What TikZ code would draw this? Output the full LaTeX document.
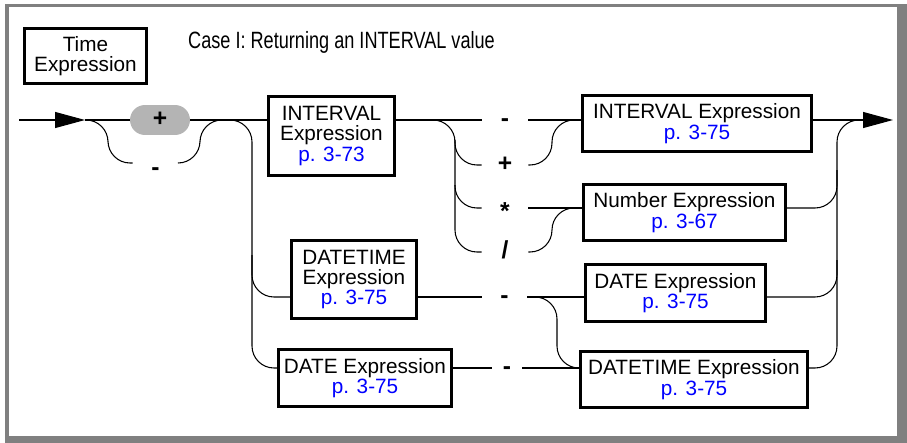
\documentclass[tikz,border=0pt]{standalone}
\usepackage{fontspec}
\setmainfont{Liberation Sans}
\newfontfamily\condfont[FakeStretch=0.77]{Liberation Sans}
\usetikzlibrary{arrows.meta}
\definecolor{framegray}{RGB}{128,128,128}
\definecolor{pillgray}{RGB}{180,180,180}
\definecolor{pageref}{RGB}{0,0,255}

\begin{document}
\begin{tikzpicture}[
    x=0.02cm, y=-0.02cm,
    syntax/.style={rectangle, draw=black, line width=1.6pt, fill=white,
        align=center, inner sep=0pt, font=\fontsize{11.8}{11.6}\selectfont},
    oper/.style={inner sep=0pt, minimum width=0.92cm, text height=0.7em,
        text depth=0pt, font=\bfseries\fontsize{14}{14}\selectfont},
    track/.style={line width=0.6pt, draw=black},
    trackturn/.style={track, rounded corners=0.44cm},
    flow/.style={track, -{Triangle[length=0.6cm, width=0.32cm]}}
]
\useasboundingbox (0,0) rectangle (907,443);

% Rahmen
\fill[framegray] (5,4) rectangle (907,443);
\fill[white] (9,7) rectangle (897,436);

% Titel
\node[syntax, minimum width=2.44cm, minimum height=1.1cm] (timeexpr) at (85.5,56) {Time\\Expression};
\node[anchor=base west, font=\condfont\fontsize{13.4}{14}\selectfont] (casetitle) at (182,48)
    {Case I: Returning an INTERVAL value};

% Zeilen und Abzweigpunkte
\coordinate (rowmain) at (0,120);
\coordinate (rowplus) at (0,165);
\coordinate (rowtimes) at (0,208);
\coordinate (rowdiv) at (0,252);
\coordinate (rowdt) at (0,297);
\coordinate (rowdate) at (0,368);
\coordinate (entry) at (19,120);
\coordinate (start) at (85,120);
\coordinate (splitL) at (225,120);
\coordinate (railL) at (252,0);
\coordinate (splitOp) at (433,120);
\coordinate (railOpL) at (455,0);
\coordinate (railOpR) at (552,0);
\coordinate (splitDt) at (535,297);
\coordinate (railDt) at (557,0);
\coordinate (railR) at (837,0);
\coordinate (arrowback) at (862,120);
\coordinate (exit) at (893,120);

% Vorzeichen
\node[oper, fill=pillgray, rounded corners=0.3cm, minimum width=1.2cm, minimum height=0.6cm] (signplus) at (160,120) {+};
\node[oper, minimum width=0.9cm] (signminus) at (155.5,163) {\raisebox{-0.25em}{-}};

\draw[flow] (entry) -- (start);
\draw[track] (start) -- (signplus);
\draw[trackturn] (start) -| (108,163) -- (signminus.west);
\draw[trackturn] (signminus.east) -| (200,120) -- (splitL);

% INTERVAL-Zweig
\node[syntax, minimum width=2.52cm, minimum height=1.58cm] (ivalA) at (331.5,136)
    {INTERVAL\\Expression\\{\color{pageref}p. 3-73}};
\node[oper] (opminus) at (505,120) {-};
\node[oper] (opplus) at (505,165) {+};
\node[oper] (optimes) at (505,208) {\raisebox{-0.23em}{*}};
\node[oper] (opdiv) at (505,252) {/};
\node[syntax, minimum width=4.58cm, minimum height=1.12cm] (ivalB) at (697,123.5)
    {INTERVAL Expression\\{\color{pageref}p. 3-75}};
\node[syntax, minimum width=4.04cm, minimum height=1.12cm] (numexpr) at (684.5,212.5)
    {Number Expression\\{\color{pageref}p. 3-67}};

\draw[track] (signplus) -- (ivalA.west |- rowmain);
\draw[track] (ivalA.east |- rowmain) -- (opminus.west);
\draw[track] (opminus.east) -- (ivalB.west |- rowmain);
\draw[trackturn] (splitOp) -| (railOpL |- rowdiv) -- (opdiv.west);
\draw[trackturn] (railOpL |- 0,140) |- (opplus.west);
\draw[trackturn] (railOpL |- 0,185) |- (optimes.west);
\draw[trackturn] (opplus.east) -| (railOpR |- rowmain) -- (ivalB.west |- rowmain);
\draw[track] (optimes.east) -- (numexpr.west |- rowtimes);
\draw[trackturn] (opdiv.east) -| (railOpR |- rowtimes) -- (numexpr.west |- rowtimes);

% DATETIME- und DATE-Zweig
\node[syntax, minimum width=2.5cm, minimum height=1.56cm] (dtA) at (354,279.5)
    {DATETIME\\Expression\\{\color{pageref}p. 3-75}};
\node[syntax, minimum width=3.46cm, minimum height=1.14cm] (dateA) at (365,378)
    {DATE Expression\\{\color{pageref}p. 3-75}};
\node[oper, minimum width=0.9cm] (dtminus) at (504.5,297) {-};
\node[oper, minimum width=0.6cm] (dateminus) at (507,368) {-};
\node[syntax, minimum width=3.6cm, minimum height=1.14cm] (dateB) at (675.5,293)
    {DATE Expression\\{\color{pageref}p. 3-75}};
\node[syntax, minimum width=4.54cm, minimum height=1.12cm] (dtB) at (694,379.5)
    {DATETIME Expression\\{\color{pageref}p. 3-75}};

\draw[trackturn] (splitL) -| (railL |- rowdate) -- (dateA.west |- rowdate);
\draw[trackturn] (railL |- 0,255) |- (dtA.west |- rowdt);
\draw[track] (dtA.east |- rowdt) -- (dtminus.west);
\draw[track] (dtminus.east) -- (dateB.west |- rowdt);
\draw[trackturn] (splitDt) -| (railDt |- rowdate) -- (dtB.west |- rowdate);
\draw[track] (dateA.east |- rowdate) -- (dateminus.west);
\draw[track] (dateminus.east) -- (dtB.west |- rowdate);

% Ausgang
\draw[trackturn] (dtB.east |- rowdate) -| (railR |- rowmain) -- (arrowback);
\draw[trackturn] (numexpr.east |- rowtimes) -| (railR |- 0,170);
\draw[trackturn] (dateB.east |- rowdt) -| (railR |- 0,260);
\draw[flow] (ivalB.east |- rowmain) -- (exit);

\end{tikzpicture}
\end{document}
